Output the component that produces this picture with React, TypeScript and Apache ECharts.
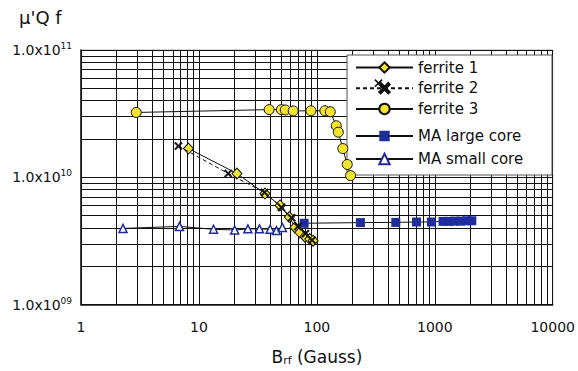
import { useEffect, useRef } from "react";
import * as echarts from "echarts";

const xTicks = [1, 10, 100, 1000, 10000];
const yTicks = [1e9, 1e10, 1e11];

const ferrite1B = [8.15, 21, 36.3, 48.7, 58.4, 65.2, 71.8, 79.1, 87.1, 92.9];
const ferrite1V = [1.68e10, 1.07e10, 7.45e9, 6.0e9, 4.87e9, 4.03e9, 3.68e9, 3.41e9, 3.27e9, 3.17e9];

const ferrite2B = [6.7, 17.7, 36, 50, 61, 69, 80, 91];
const ferrite2V = [1.76e10, 1.07e10, 7.6e9, 5.8e9, 4.8e9, 4.1e9, 3.6e9, 3.2e9];

const ferrite3B = [2.94, 39.4, 50, 54, 63, 89, 117, 130, 146, 152, 166, 181, 193];
const ferrite3V = [3.23e10, 3.4e10, 3.4e10, 3.38e10, 3.32e10, 3.33e10, 3.33e10, 3.27e10, 2.54e10, 2.26e10, 1.68e10, 1.26e10, 1.03e10];

const maLargeB = [78, 234, 467, 700, 936, 1175, 1320, 1480, 1660, 1870, 2060];
const maLargeV = [4.35e9, 4.4e9, 4.42e9, 4.45e9, 4.45e9, 4.5e9, 4.5e9, 4.52e9, 4.52e9, 4.55e9, 4.55e9];

const maSmallB = [2.27, 6.84, 13.3, 20.1, 26.0, 32.6, 40.2, 45.4, 51];
const maSmallV = [3.96e9, 4.11e9, 3.9e9, 3.85e9, 3.93e9, 3.93e9, 3.9e9, 3.81e9, 4.03e9];

const pairs = (xs: number[], ys: number[]) => xs.map((x, i) => [x, ys[i]]);

const FONT = "DejaVu Sans";
const YELLOW = "#f4e430";
const BLUE = "#1f2c9c";
const X_SYMBOL = "path://M0,1.4 L1.4,0 L5,3.6 L8.6,0 L10,1.4 L6.4,5 L10,8.6 L8.6,10 L5,6.4 L1.4,10 L0,8.6 L3.6,5 Z";

// legend layout
const LEG_LEFT = 350;
const LEG_TOP1 = 54.5;
const LEG_ROW = 16;
const LEG_GAP1 = 4.7;
const LEG_W = 57;

export default function App() {
  const ref = useRef<HTMLDivElement>(null);
  useEffect(() => {
    if (!ref.current) return;
    const chart = echarts.init(ref.current, null, { renderer: "svg" });
    const gridLine = { show: true, lineStyle: { color: "#111", width: 1 } };
    const legendText = { fontFamily: FONT, fontSize: 15, color: "#111", lineHeight: LEG_ROW };
    const xcx = LEG_LEFT + LEG_W / 2;
    const xcy = LEG_TOP1 + LEG_ROW + LEG_GAP1 + LEG_ROW / 2;
    const h = 3.6;
    chart.setOption({
      animation: false,
      backgroundColor: "#fff",
      title: {
        text: "\u03bc'Q f",
        left: 14,
        top: 3,
        textStyle: { fontFamily: FONT, fontSize: 18, fontWeight: "normal", color: "#111" },
      },
      grid: { left: 81, right: 22, top: 50, bottom: 63, show: true, borderColor: "#aaa", borderWidth: 1 },
      xAxis: {
        type: "log",
        logBase: 10,
        min: xTicks[0],
        max: xTicks[xTicks.length - 1],
        name: "{a|B}{s|rf}{a| (Gauss)}",
        nameLocation: "middle",
        nameGap: 42,
        nameTextStyle: {
          rich: {
            a: { fontFamily: FONT, fontSize: 17, color: "#111", lineHeight: 20 },
            s: { fontFamily: FONT, fontSize: 11, color: "#111", lineHeight: 20, padding: [8, 0, 0, 0] },
          },
        },
        axisLine: { show: true, lineStyle: { color: "#111", width: 1.5 } },
        axisTick: { show: false },
        axisLabel: {
          fontFamily: FONT,
          fontSize: 14,
          color: "#111",
          margin: 15,
          formatter: (v: number) => String(Math.round(v)),
        },
        splitLine: gridLine,
        minorTick: { show: false, splitNumber: 9 },
        minorSplitLine: gridLine,
      },
      yAxis: {
        type: "log",
        logBase: 10,
        min: yTicks[0],
        max: yTicks[yTicks.length - 1],
        interval: 1,
        axisLine: { show: true, lineStyle: { color: "#111", width: 1.5 } },
        axisTick: { show: true, inside: true, length: 7, lineStyle: { color: "#111" } },
        axisLabel: {
          margin: 9,
          formatter: (v: number) => {
            const e = Math.round(Math.log10(v));
            return `{a|1.0x10}{s|${String(e).padStart(2, "0")}}`;
          },
          rich: {
            a: { fontFamily: FONT, fontSize: 14, color: "#111", lineHeight: 18 },
            s: { fontFamily: FONT, fontSize: 9, color: "#111", lineHeight: 18, padding: [0, 0, 8, 0] },
          },
        },
        splitLine: gridLine,
        minorTick: { show: false, splitNumber: 9 },
        minorSplitLine: gridLine,
      },
      graphic: [
        {
          type: "rect",
          z: 1,
          shape: { x: 347, y: 55, width: 205, height: 120 },
          style: { fill: "#fff", stroke: "#555", lineWidth: 1 },
        },
        {
          type: "group",
          z: 100,
          children: [
            {
              type: "line",
              z: 100,
              shape: { x1: xcx - h, y1: xcy - h, x2: xcx + h, y2: xcy + h },
              style: { stroke: "#111", lineWidth: 1.6 },
            },
            {
              type: "line",
              z: 100,
              shape: { x1: xcx - h, y1: xcy + h, x2: xcx + h, y2: xcy - h },
              style: { stroke: "#111", lineWidth: 1.6 },
            },
          ],
        },
      ],
      legend: [
        {
          data: ["ferrite 1", "ferrite 2", "ferrite 3"],
          orient: "vertical",
          left: LEG_LEFT,
          top: LEG_TOP1,
          itemWidth: LEG_W,
          itemHeight: 13,
          itemGap: LEG_GAP1,
          textStyle: legendText,
          z: 10,
        },
        {
          data: ["MA large core", "MA small core"],
          orient: "vertical",
          left: LEG_LEFT,
          top: 123,
          itemWidth: LEG_W,
          itemHeight: 13,
          itemGap: 7,
          textStyle: legendText,
          z: 10,
        },
      ],
      series: [
        {
          name: "MA small core",
          type: "line",
          data: pairs(maSmallB, maSmallV),
          symbol: "triangle",
          symbolSize: 8,
          itemStyle: { color: "#fff", borderColor: BLUE, borderWidth: 1.5 },
          lineStyle: { color: "#111", width: 1 },
          z: 3,
        },
        {
          name: "MA large core",
          type: "line",
          data: pairs(maLargeB, maLargeV),
          symbol: "rect",
          symbolSize: 9,
          itemStyle: { color: BLUE, borderColor: BLUE, borderWidth: 0 },
          lineStyle: { color: "#111", width: 1 },
          z: 3,
        },
        {
          name: "ferrite 3",
          type: "line",
          data: pairs(ferrite3B, ferrite3V),
          symbol: "circle",
          symbolSize: 10,
          itemStyle: { color: YELLOW, borderColor: "#111", borderWidth: 1 },
          lineStyle: { color: "#111", width: 1 },
          z: 4,
        },
        {
          name: "ferrite 1",
          type: "line",
          data: pairs(ferrite1B, ferrite1V),
          symbol: "diamond",
          symbolSize: [10, 11],
          itemStyle: { color: YELLOW, borderColor: "#111", borderWidth: 1 },
          lineStyle: { color: "#111", width: 1 },
          z: 5,
        },
        {
          name: "ferrite 2",
          type: "line",
          data: pairs(ferrite2B, ferrite2V),
          symbol: X_SYMBOL,
          symbolSize: 8,
          itemStyle: { color: "#111", borderColor: "#111", borderWidth: 0.5 },
          lineStyle: { color: "#111", width: 1, type: [4, 3] },
          z: 6,
        },
      ],
    });
    return () => chart.dispose();
  }, []);
  return <div ref={ref} style={{ width: 578, height: 371, position: "absolute", left: 0, top: 0 }} />;
}
